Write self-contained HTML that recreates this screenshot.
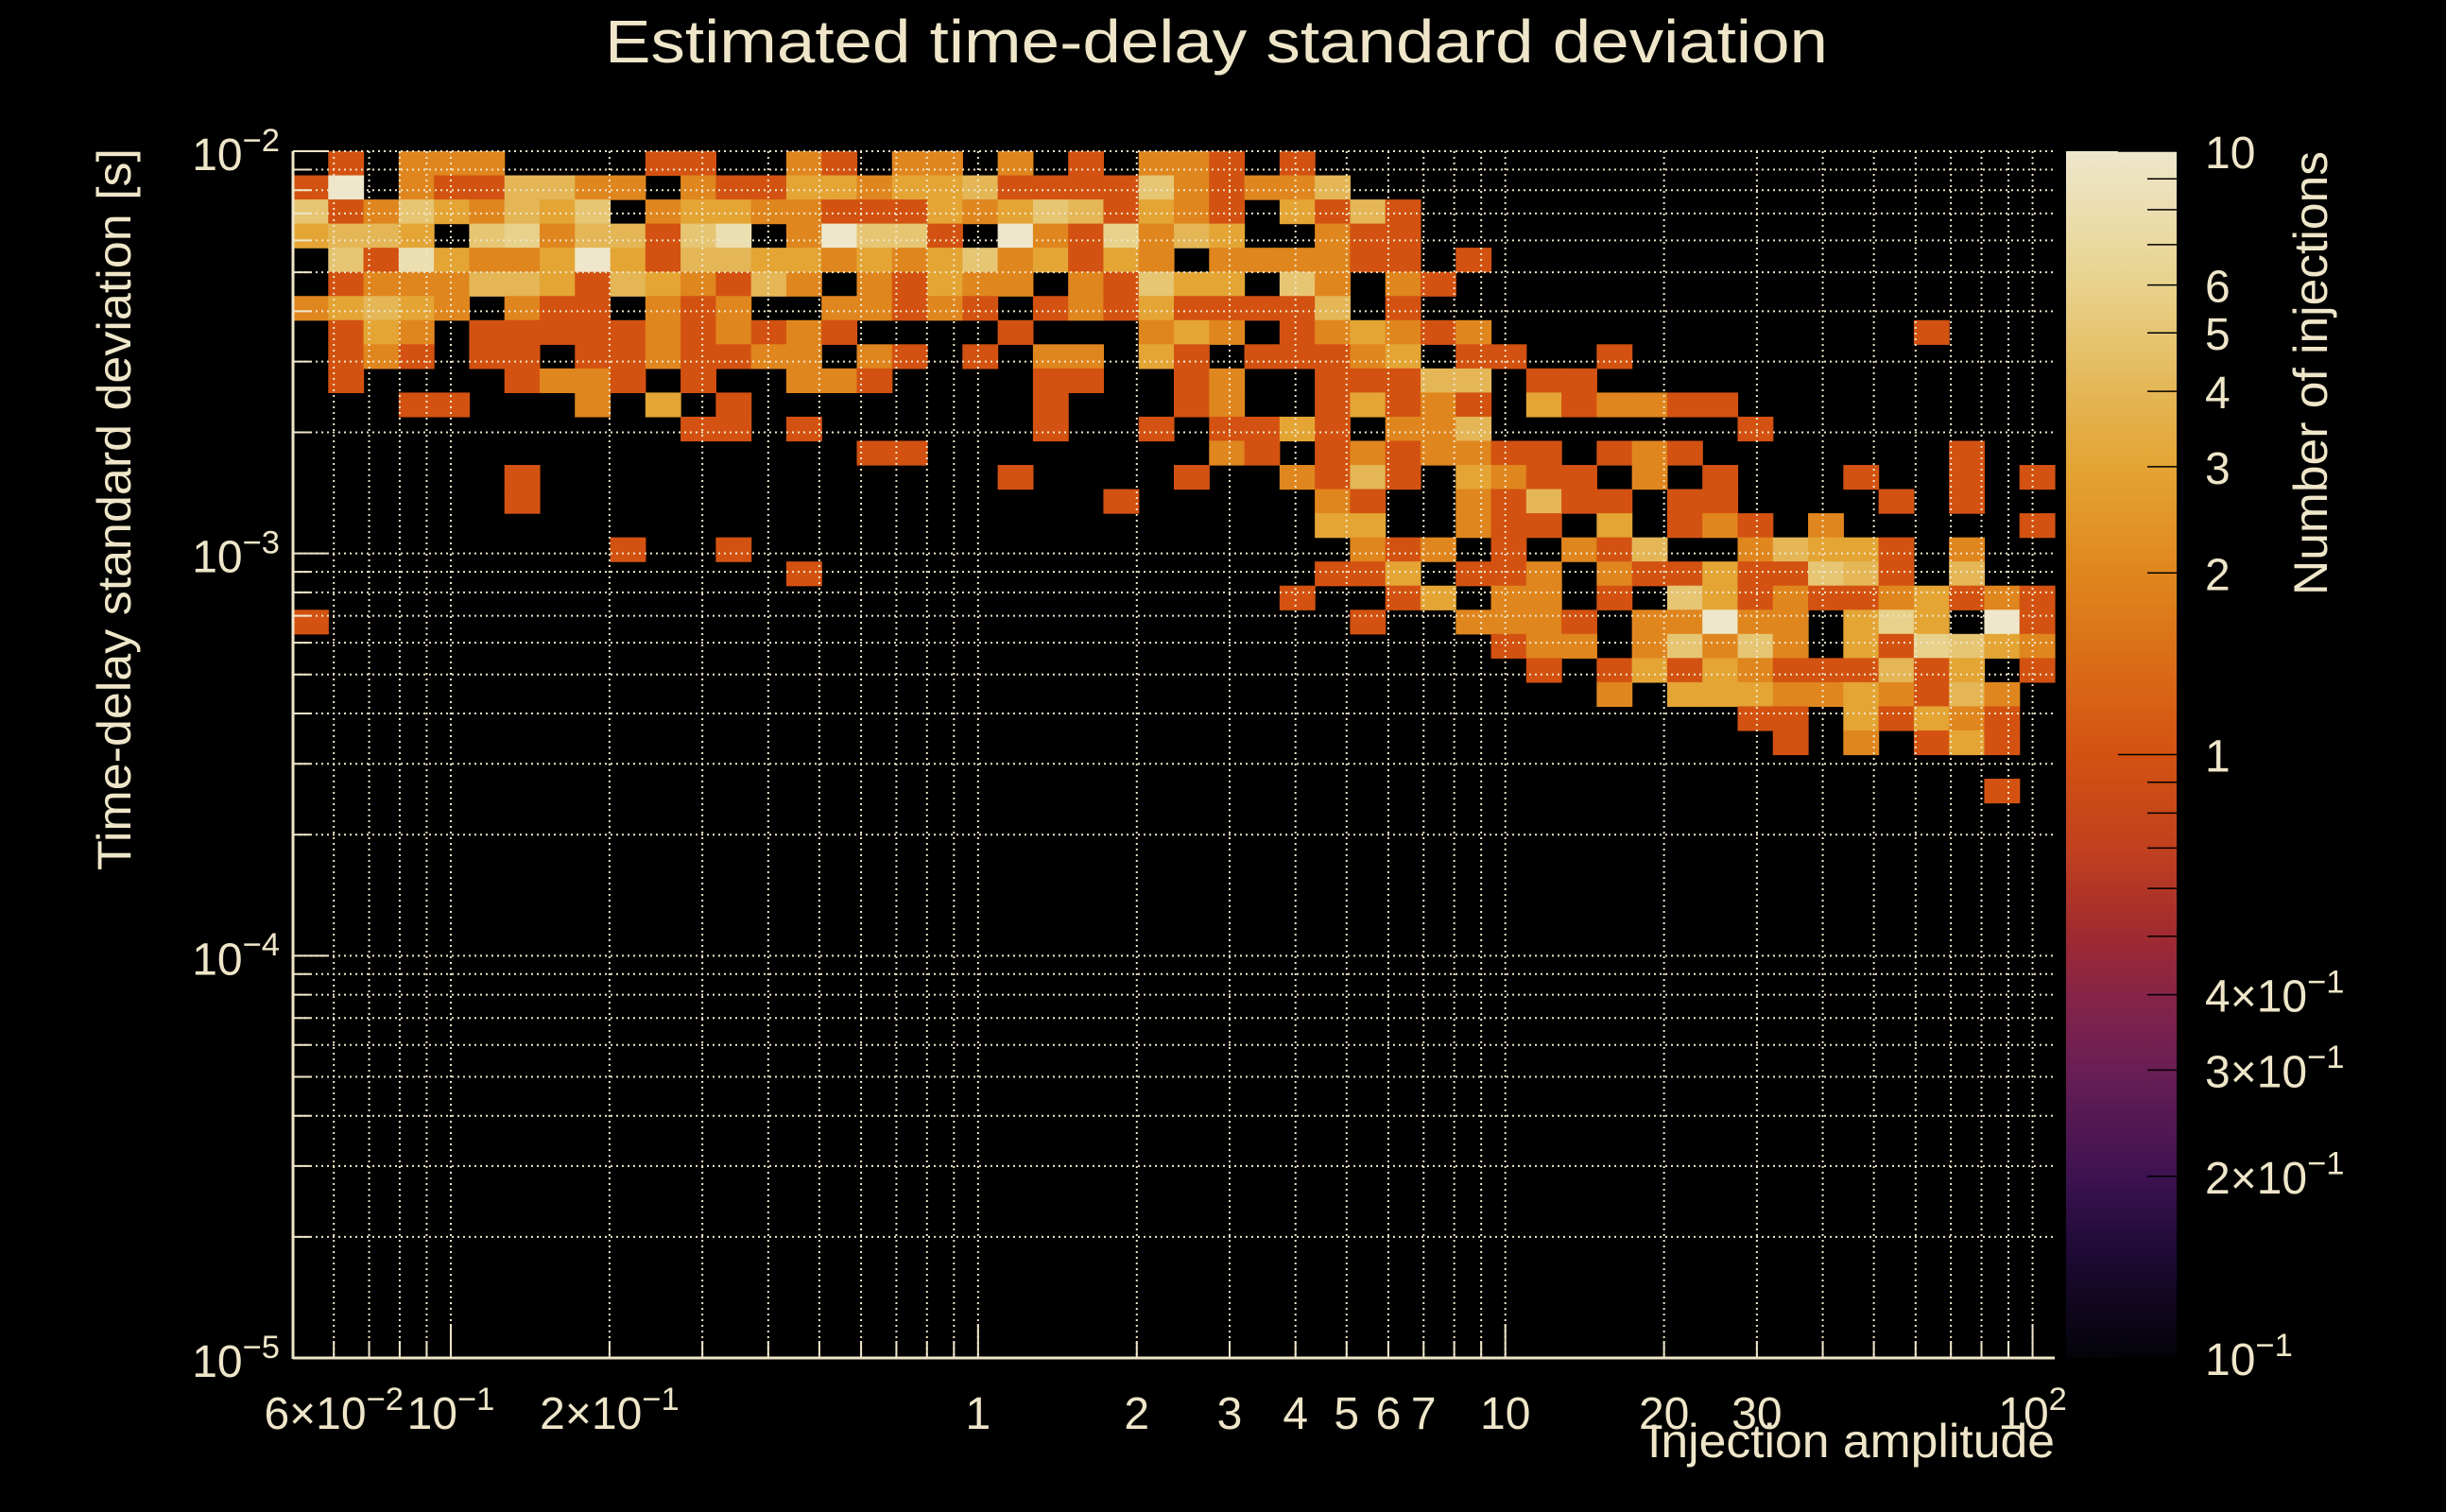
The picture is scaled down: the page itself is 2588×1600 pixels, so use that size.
<!DOCTYPE html>
<html><head><meta charset="utf-8"><style>
html,body{margin:0;padding:0;background:#000;}
svg{display:block;}
text{font-family:"Liberation Sans",sans-serif;fill:#efe6c9;}
</style></head><body>
<svg id="chart" width="2588" height="1600" viewBox="0 0 2588 1600" xmlns="http://www.w3.org/2000/svg">
<defs>
<linearGradient id="cbgrad" x1="0" y1="1" x2="0" y2="0">
<stop offset="0" stop-color="#030308"/>
<stop offset="0.088" stop-color="#1e0a35"/>
<stop offset="0.15" stop-color="#3d1250"/>
<stop offset="0.24" stop-color="#6a1e55"/>
<stop offset="0.30" stop-color="#862448"/>
<stop offset="0.35" stop-color="#a02a30"/>
<stop offset="0.42" stop-color="#c0401f"/>
<stop offset="0.5" stop-color="#d35211"/>
<stop offset="0.65" stop-color="#e0861e"/>
<stop offset="0.74" stop-color="#e4a535"/>
<stop offset="0.80" stop-color="#e4b655"/>
<stop offset="0.89" stop-color="#e8d28c"/>
<stop offset="1" stop-color="#eee7cc"/>
</linearGradient>
</defs>
<rect x="0" y="0" width="2588" height="1600" fill="#000"/>
<g id="cells"></g>
<g id="grid"></g>
<g id="axes"></g>
<rect x="2186" y="160" width="117" height="1277" fill="url(#cbgrad)"/>
<g id="cbticks"></g>
<text x="1287" y="66" font-size="64" text-anchor="middle" textLength="1294" lengthAdjust="spacingAndGlyphs">Estimated time-delay standard deviation</text>
<text transform="translate(138,539) rotate(-90)" font-size="50" text-anchor="middle" textLength="764" lengthAdjust="spacingAndGlyphs">Time-delay standard deviation [s]</text>
<text x="2174" y="1542" font-size="50" text-anchor="end" textLength="431" lengthAdjust="spacingAndGlyphs">Injection amplitude</text>
<text transform="translate(2462,395) rotate(-90)" font-size="50" text-anchor="middle" textLength="470" lengthAdjust="spacingAndGlyphs">Number of injections</text>
</svg>
<script>
const counts = [
"01022200001100210220201022101000000000000000000000",
"19021144220211332334111152122400000000000000000000",
"51253243502332211132354132103141000000000000000000",
"34430562441580295510921624300211000000000000000000",
"05183223931443323235231320222211010000000000000000",
"01222443143214202132202153305202100000000000000000",
"23432021102120022121012131111401000000000000000000",
"01320111112121210000100023201232120000000000001000",
"01210110112112202101022031011123011001000000000000",
"01000012210100221000011001200111440110000000000000",
"00011000203010000000010001200131210312211000000000",
"00000000000110100000010010113102240000000100000000",
"00000000000000001100000000210121221101210000000100",
"00000010000000000000100001002141032110201000100101",
"00000010000000000000000100000210021411011000010100",
"00000000000000000000000000000330021103012102000001",
"00000000010010000000000000000021201021400243310200",
"00000000000000100000000000000113011202113115410400",
"00000000000000000000000000001001302201053121123121",
"10000000000000000000000000000010022210229220363091",
"00000000000000000000000000000000001220252520316532",
"00000000000000000000000000000000000101313211141301",
"00000000000000000000000000000000000002033322321420",
"00000000000000000000000000000000000000000110313210",
"00000000000000000000000000000000000000000010201310",
"00000000000000000000000000000000000000000000000000",
"00000000000000000000000000000000000000000000000010"
];
const xTickValues = [0.06, 0.1, 0.2, 1, 2, 3, 4, 5, 6, 7, 10, 20, 30, 100];
const xTickMant = ["6×10", "10", "2×10", "1", "2", "3", "4", "5", "6", "7", "10", "20", "30", "10"];
const xTickExp = ["−2", "−1", "−1", "", "", "", "", "", "", "", "", "", "", "2"];
const yTickValues = [1e-2, 1e-3, 1e-4, 1e-5];
const yTickExp = ["−2", "−3", "−4", "−5"];
const cbTickValues = [10, 6, 5, 4, 3, 2, 1, 0.4, 0.3, 0.2, 0.1];
const cbTickMant = ["10", "6", "5", "4", "3", "2", "1", "4×10", "3×10", "2×10", "10"];
const cbTickExp = ["", "", "", "", "", "", "", "−1", "−1", "−1", "−1"];

const NS = "http://www.w3.org/2000/svg";
const PX0 = 310, PX1 = 2174, PY0 = 160, PY1 = 1437;
const XLMIN = -1.2993, XLMAX = 2.042, YLMAX = -2, YLMIN = -5;
const NBX = 50, NBY = 50;
function xs(v){ return PX0 + (Math.log10(v) - XLMIN) / (XLMAX - XLMIN) * (PX1 - PX0); }
function ys(v){ return PY0 + (YLMAX - Math.log10(v)) / (YLMAX - YLMIN) * (PY1 - PY0); }
function cs(v){ return PY0 + (1 - Math.log10(v)) / 2 * (PY1 - PY0); }
const stops = [[0,[3,3,8]],[0.088,[30,10,53]],[0.15,[61,18,80]],[0.24,[106,30,85]],[0.30,[134,36,72]],[0.35,[160,42,48]],[0.42,[192,64,31]],[0.5,[211,82,17]],[0.65,[224,134,30]],[0.74,[228,165,53]],[0.80,[228,182,85]],[0.89,[232,210,140]],[1,[238,231,204]]];
function colorOf(v){
  let t = (Math.log10(v) + 1) / 2; t = Math.max(0, Math.min(1, t));
  for (let i = 1; i < stops.length; i++) {
    if (t <= stops[i][0]) {
      const a = stops[i-1], b = stops[i], f = (t - a[0]) / (b[0] - a[0]);
      const c = a[1].map((x, j) => Math.round(x + (b[1][j] - x) * f));
      return "rgb(" + c.join(",") + ")";
    }
  }
  return "rgb(238,231,204)";
}
function mk(tag, attrs, parent){
  const e = document.createElementNS(NS, tag);
  for (const k in attrs) e.setAttribute(k, attrs[k]);
  parent.appendChild(e); return e;
}
const cellG = document.getElementById("cells");
function xEdge(k){ return Math.pow(10, XLMIN + k * (XLMAX - XLMIN) / NBX); }
function yEdge(r){ return Math.pow(10, YLMAX - r * (YLMAX - YLMIN) / NBY); }
counts.forEach((row, r) => {
  for (let k = 0; k < row.length; k++) {
    let v = parseInt(row[k], 10);
    if (!v) continue;
    if (v === 9) v = 10;
    const x0 = xs(xEdge(k)), x1 = xs(xEdge(k + 1));
    const y0 = ys(yEdge(r)), y1 = ys(yEdge(r + 1));
    const c = mk("rect", {x: x0.toFixed(2), y: y0.toFixed(2), width: (x1 - x0 + 0.6).toFixed(2), height: (y1 - y0 + 0.6).toFixed(2), fill: colorOf(v)}, cellG);
    
    
  }
});
const gridG = document.getElementById("grid");
const gridStyle = {stroke: "#efe6c9", "stroke-width": "2", "stroke-dasharray": "2,4"};
const xGridVals = [];
for (let d = -2; d <= 2; d++) for (let m = 1; m <= 9; m++) { const v = m * Math.pow(10, d); if (v >= 0.0502 && v <= 110) xGridVals.push(v); }
xGridVals.forEach(v => {
  const x = xs(v);
  const l = mk("line", Object.assign({x1: x, x2: x, y1: PY0, y2: PY1}, gridStyle), gridG);
  
  
});
const yGridVals = [];
for (let d = -5; d <= -3; d++) for (let m = 1; m <= 9; m++) yGridVals.push(m * Math.pow(10, d));
yGridVals.push(1e-2);
yGridVals.forEach(v => {
  const y = ys(v);
  const l = mk("line", Object.assign({x1: PX0, x2: PX1, y1: y, y2: y}, gridStyle), gridG);
  
  
});
const axG = document.getElementById("axes");
const ax1 = mk("line", {x1: PX0, x2: PX0, y1: PY0, y2: PY1 + 1, stroke: "#efe6c9", "stroke-width": "3"}, axG);


const ax2 = mk("line", {x1: PX0, x2: PX1, y1: PY1, y2: PY1, stroke: "#efe6c9", "stroke-width": "3"}, axG);


yGridVals.forEach(v => {
  const y = ys(v); const major = Math.abs(Math.log10(v) - Math.round(Math.log10(v))) < 1e-6;
  const t = mk("line", {x1: PX0, x2: PX0 + (major ? 36 : 18), y1: y, y2: y, stroke: "#efe6c9", "stroke-width": "2"}, axG);
  
  
});
xGridVals.forEach(v => {
  const x = xs(v); const major = Math.abs(Math.log10(v) - Math.round(Math.log10(v))) < 1e-6;
  const t = mk("line", {x1: x, x2: x, y1: PY1, y2: PY1 - (major ? 36 : 18), stroke: "#efe6c9", "stroke-width": "2"}, axG);
  
  
});
function label(parent, x, y, anchor, mant, exp, fs, name){
  const t = mk("text", {x: x, y: y, "font-size": fs, "text-anchor": anchor}, parent);
  
  
  t.appendChild(document.createTextNode(mant));
  if (exp) {
    const s = mk("tspan", {dy: -fs * 0.42, "font-size": fs * 0.72}, t);
    s.textContent = exp;
  }
  return t;
}
xTickValues.forEach((v, i) => {
  label(axG, xs(v), 1512, "middle", xTickMant[i], xTickExp[i], 48, 'x-tick-label');
});
yTickValues.forEach((v, i) => {
  label(axG, 296, ys(v) + 20, "end", "10", yTickExp[i], 48, 'y-tick-label');
});
const cbG = document.getElementById("cbticks");
const cbMinor = [];
for (let m = 1; m <= 9; m++) cbMinor.push(m * 0.1);
for (let m = 1; m <= 10; m++) cbMinor.push(m);
cbMinor.forEach(v => {
  const y = cs(v); const major = Math.abs(Math.log10(v) - Math.round(Math.log10(v))) < 1e-6;
  const t = mk("line", {x1: 2303, x2: 2303 - (major ? 62 : 31), y1: y, y2: y, stroke: "#000", "stroke-width": "1.5"}, cbG);
  
  
});
cbTickValues.forEach((v, i) => {
  label(cbG, 2333, cs(v) + 18, "start", cbTickMant[i], cbTickExp[i], 48, 'colorbar-tick-label');
});
</script>
</body></html>
